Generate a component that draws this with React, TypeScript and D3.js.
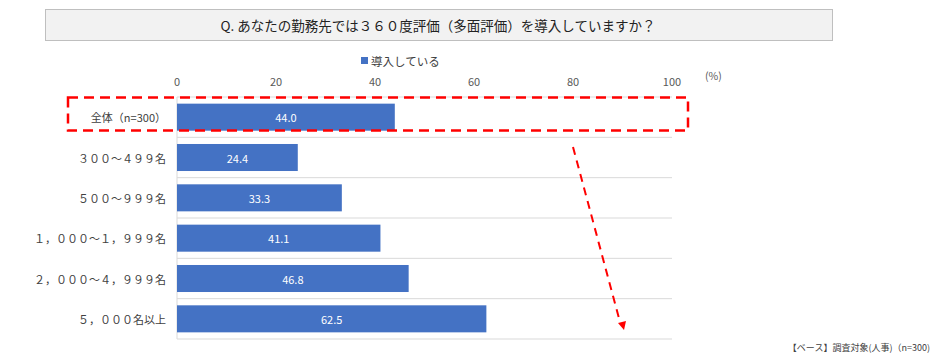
import React from "react";
import * as d3 from "d3";

const categories = [
  "全体（n=300）",
  "３００～４９９名",
  "５００～９９９名",
  "１，０００～１，９９９名",
  "２，０００～４，９９９名",
  "５，０００名以上",
];
const values = [44.0, 24.4, 33.3, 41.1, 46.8, 62.5];
const ticks = [0, 20, 40, 60, 80, 100];
const seriesName = "導入している";
const title = "Q. あなたの勤務先では３６０度評価（多面評価）を導入していますか？";
const footnote = "【ベース】調査対象(人事)（n=300)";

const W = 938;
const H = 357;
const FONT = "'Noto Sans CJK JP', 'Noto Sans', sans-serif";

export default function App() {
  const x = d3.scaleLinear().domain([0, 100]).range([177, 672]);
  const y = d3.scaleBand<string>().domain(categories).range([97, 339]).paddingInner(0.33).paddingOuter(0.165);
  const step = y.step();
  const bandTop = (c: string) => (y(c) as number) - y.paddingInner() * step / 2;
  const gridYs = categories.map((c) => bandTop(c)).concat([339]);

  const ax1 = 573, ay1 = 147, ax2 = 620, ay2 = 322;

  return (
    <svg
      width={W}
      height={H}
      style={{ display: "block", fontFamily: FONT, position: "absolute", left: 0, top: 0 }}
    >
      <rect x={0} y={0} width={W} height={H} fill="#fff" />
      {/* title */}
      <rect x={45.5} y={9.5} width={787} height={31} fill="#f2f2f2" stroke="#bfbfbf" strokeWidth={1} />
      <text x={438} y={25} textAnchor="middle" dominantBaseline="central" fontSize={13.5} fill="#222">
        {title}
      </text>
      {/* legend */}
      <rect x={361} y={57} width={7} height={7} fill="#4472C4" />
      <text x={371} y={61} dominantBaseline="central" fontSize={11.5} fill="#404040">
        {seriesName}
      </text>
      {/* ticks */}
      {ticks.map((t) => (
        <text key={t} x={x(t)} y={81} textAnchor="middle" dominantBaseline="central" fontSize={11} fill="#595959">
          {t}
        </text>
      ))}
      <text x={705} y={75} dominantBaseline="central" fontSize={10.5} fill="#595959">
        (%)
      </text>
      {/* grid */}
      {gridYs.map((gy, i) => (
        <line key={i} x1={x(0)} x2={x(100)} y1={gy} y2={gy} stroke="#d9d9d9" strokeWidth={1} />
      ))}
      <line x1={x(0)} x2={x(0)} y1={97} y2={339} stroke="#d9d9d9" strokeWidth={1} />
      {/* bars */}
      {categories.map((c, i) => (
        <g key={c}>
          <rect x={x(0)} y={y(c)} width={x(values[i]) - x(0)} height={y.bandwidth()} fill="#4472C4" />
          <text
            x={(x(0) + x(values[i])) / 2}
            y={(y(c) as number) + y.bandwidth() / 2}
            textAnchor="middle"
            dominantBaseline="central"
            fontSize={11}
            fill="#fff"
          >
            {values[i].toFixed(1)}
          </text>
          <text
            x={166}
            y={(y(c) as number) + y.bandwidth() / 2}
            textAnchor="end"
            dominantBaseline="central"
            fontSize={11}
            fill="#404040"
          >
            {c}
          </text>
        </g>
      ))}
      {/* highlight */}
      <rect x={68} y={97.5} width={620} height={33} fill="none" stroke="#ff0000" strokeWidth={2.5} strokeDasharray="10,6" />
      <line x1={ax1} y1={ay1} x2={ax2} y2={ay2} stroke="#ff0000" strokeWidth={2} strokeDasharray="8,6" />
      <polygon points={`624,330 618,323 626,321`} fill="#ff0000" />
      {/* footnote */}
      <text x={930} y={347} textAnchor="end" dominantBaseline="central" fontSize={9} fill="#404040">
        {footnote}
      </text>
    </svg>
  );
}
